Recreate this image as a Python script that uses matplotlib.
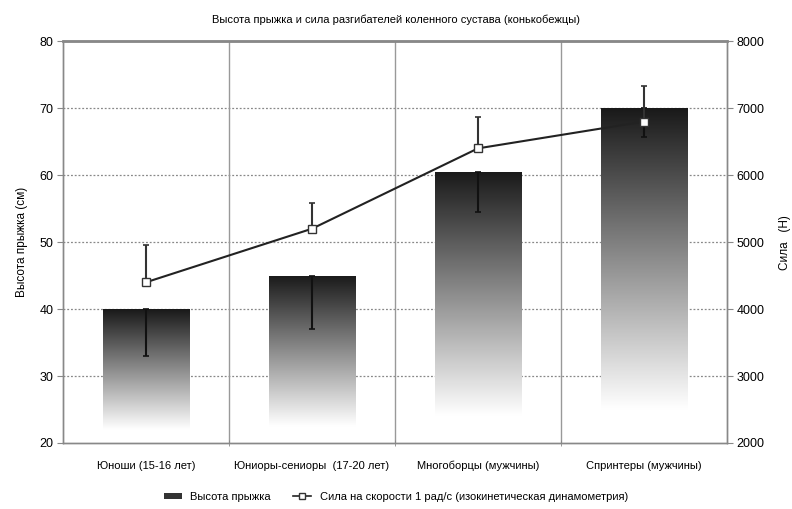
import numpy as np
import matplotlib
matplotlib.use("Agg")
import matplotlib.pyplot as plt
from matplotlib.lines import Line2D
from matplotlib.patches import Patch

plt.rcParams['font.family'] = ['Liberation Sans', 'DejaVu Sans']

groups = ["Юноши (15-16 лет)", "Юниоры-сениоры  (17-20 лет)",
          "Многоборцы (мужчины)", "Спринтеры (мужчины)"]
jump_height = [40, 45, 60.5, 70]        # см
jump_err = [7, 8, 6, 4.3]
force = [4400, 5200, 6400, 6800]        # Н
force_err = [550, 380, 470, 530]

fig = plt.figure(figsize=(7.92, 5.09), dpi=100)
ax = fig.add_axes([0.0795, 0.1297, 0.8385, 0.7893])
ax2 = ax.twinx()

x = np.arange(len(groups))

# grid: dotted horizontals, solid separators between groups
for v in range(30, 80, 10):
    ax.axhline(v, color='#888888', lw=0.9, ls=(0, (1.5, 1.5)), zorder=0)
for b in x[:-1] + 0.5:
    ax.axvline(b, color='#999999', lw=1.0, zorder=0)

# bars with a dark-to-white vertical gradient (white over the lowest part)
t = np.linspace(0, 1, 256)
s = np.clip((t - 0.1) / 0.9, 0, 1)
g = 1.0 - 0.9 * s
grad = np.dstack([g, g, g]).reshape(-1, 1, 3)

bars = ax.bar(x, np.array(jump_height) - 20, bottom=20, width=0.52,
              facecolor='none', edgecolor='none', zorder=2)
for bar, top in zip(bars, jump_height):
    x0 = bar.get_x()
    w = bar.get_width()
    img = ax.imshow(grad, aspect='auto', origin='lower',
                    extent=(x0, x0 + w, 20, top),
                    interpolation='bilinear', zorder=2)
    img.set_clip_path(bar)
ax.set_xlim(-0.5, len(groups) - 0.5)
ax.set_ylim(20, 80)
ax2.set_ylim(2000, 8000)

# downward error bars on jump height
ax.errorbar(x, jump_height, yerr=[jump_err, [0] * 4], fmt='none',
            ecolor='#111111', elinewidth=1.5, capsize=2.5, capthick=1.2,
            zorder=3)

# force line with upward error bars
ax2.errorbar(x, force, yerr=[[0] * 4, force_err], fmt='none',
             ecolor='#333333', elinewidth=1.5, capsize=2.5, capthick=1.2,
             zorder=3)
ax2.plot(x, force, color='#222222', lw=1.5, marker='s', ms=5.5,
         mfc='white', mec='#333333', mew=1.0, zorder=4)

for a in (ax, ax2):
    for sp in a.spines.values():
        sp.set_color('#888888')
        sp.set_linewidth(1.0)
ax.spines['top'].set_linewidth(2.0)

ax.set_xticks(x)
ax.set_xticklabels(groups, fontsize=8, va='baseline')
ax.set_xticks(x[:-1] + 0.5, minor=True)
ax.tick_params(axis='x', which='major', length=0, pad=18.5)
ax.tick_params(axis='x', which='minor', length=4, direction='inout',
               color='#888888')
ax.set_yticks(range(20, 81, 10))
ax.tick_params(axis='y', labelsize=9, length=4, color='#888888', pad=3)
ax2.set_yticks(range(2000, 8001, 1000))
ax2.tick_params(axis='y', labelsize=9, length=4, color='#888888', pad=3)

ax.set_ylabel("Высота прыжка (см)", fontsize=8.5, labelpad=8)
ax2.set_ylabel("Сила   (Н)", fontsize=8.5, labelpad=10)
fig.text(0.5, 0.962, "Высота прыжка и сила разгибателей коленного сустава (конькобежцы)",
         ha='center', va='center', fontsize=8)

handles = [Patch(facecolor='#333333', edgecolor='none'),
           Line2D([], [], color='#222222', lw=1.2, marker='s', ms=5,
                  mfc='white', mec='#333333')]
fig.legend(handles, ["Высота прыжка",
                     "Сила на скорости 1 рад/с (изокинетическая динамометрия)"],
           loc='center', bbox_to_anchor=(0.5, 0.024), ncol=2, frameon=False,
           fontsize=8, handlelength=1.6, handleheight=0.5, columnspacing=2.0)

fig.savefig("out.png", dpi=100)
